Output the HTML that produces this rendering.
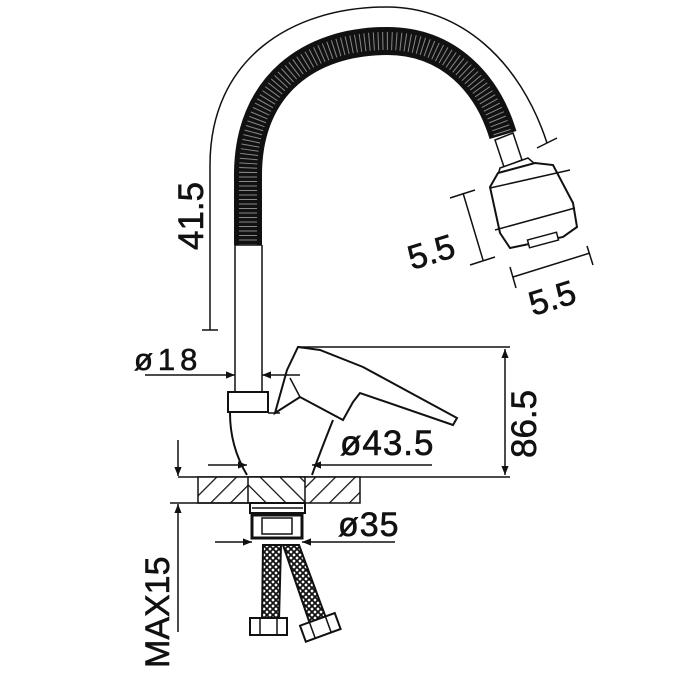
<!DOCTYPE html>
<html><head><meta charset="utf-8"><style>
html,body{margin:0;padding:0;background:#fff;width:700px;height:700px;overflow:hidden}
svg{display:block}
text{font-family:"Liberation Sans",sans-serif;fill:#111;stroke:#111;stroke-width:0.6}
</style></head><body>
<svg width="700" height="700" viewBox="0 0 700 700" xmlns="http://www.w3.org/2000/svg">
<defs>
<pattern id="h1" width="14" height="14" patternUnits="userSpaceOnUse" patternTransform="rotate(45)">
<rect width="14" height="14" fill="#fff"/><line x1="0" y1="0" x2="0" y2="14" stroke="#111" stroke-width="2.5"/></pattern>
<pattern id="h2" width="14" height="14" patternUnits="userSpaceOnUse" patternTransform="rotate(-45)">
<rect width="14" height="14" fill="#fff"/><line x1="0" y1="0" x2="0" y2="14" stroke="#111" stroke-width="2.5"/></pattern>
<pattern id="br" width="6" height="6" patternUnits="userSpaceOnUse">
<rect width="6" height="6" fill="#fff"/><path d="M0 0L6 6M6 0L0 6" stroke="#111" stroke-width="1.8"/></pattern>
<marker id="ar" viewBox="0 0 10 10" refX="10" refY="5" markerWidth="6" markerHeight="6" orient="auto-start-reverse"><path d="M0 1L10 5L0 9z" fill="#111"/></marker>
</defs>
<g stroke="#111" fill="none" stroke-width="1.5">
<path d="M210,330 L210,165 C210,60 290,7 387,7 C460,7 520,60 547,143"/>
<line x1="537" y1="148" x2="557" y2="138"/>
<line x1="202" y1="330" x2="218" y2="330"/>
<path d="M248,245 L248,175 C248,85 310,41 387,41 C450,41 488,85 503,135" stroke="#111" stroke-width="28"/>
<path d="M248,245 L248,175 C248,85 310,41 387,41 C450,41 488,85 503,135" stroke="#888" stroke-width="18" stroke-dasharray="1 3.5"/>
<line x1="235" y1="245" x2="235" y2="392"/><line x1="262" y1="245" x2="262" y2="392"/>
<line x1="235" y1="245" x2="262" y2="245"/>
<polygon points="495,140 513,133 522,160 504,167" fill="#fff"/>
<polygon points="500,168 528,158 535,164 498,175" fill="#fff"/>
<polygon points="498,173 535,163 553,165 573,203 577,227 563,237 510,248 500,233 490,187" fill="#fff" stroke-width="2"/>
<line x1="495" y1="230" x2="575" y2="208"/>
<line x1="490" y1="188" x2="570" y2="170"/>
<rect x="528" y="236" width="30" height="8" fill="#fff" transform="rotate(-15 543 240)"/>
<line x1="463" y1="193" x2="483" y2="260"/>
<line x1="450" y1="198" x2="475" y2="190"/><line x1="470" y1="265" x2="495" y2="257"/>
<line x1="513" y1="277" x2="590" y2="253"/>
<line x1="510" y1="267" x2="516" y2="288"/><line x1="587" y1="246" x2="593" y2="265"/>
<rect x="228" y="392" width="40" height="20" fill="#fff" stroke-width="2"/>
<path d="M230,413 C230,440 238,460 247,475 M333,420 C325,440 318,458 312,475" stroke-width="2"/>
<line x1="268" y1="413" x2="280" y2="413"/>
<path d="M287,370 L298,347 L320,350 L363,367 L457,418 L453,425 L360,393 L353,402 L343,420 L300,397 L275,413 Z" fill="#fff" stroke-width="2"/>
<line x1="290" y1="378" x2="300" y2="397"/>
<line x1="298" y1="347" x2="510" y2="347"/>
<line x1="505" y1="349" x2="505" y2="475" marker-start="url(#ar)" marker-end="url(#ar)"/>
<line x1="178" y1="477" x2="510" y2="477"/>
<line x1="145" y1="375" x2="218" y2="375" /><line x1="218" y1="375" x2="235" y2="375" marker-end="url(#ar)"/>
<line x1="262" y1="375" x2="300" y2="375" marker-start="url(#ar)"/>
<line x1="208" y1="465" x2="247" y2="465" marker-end="url(#ar)"/>
<line x1="312" y1="465" x2="432" y2="465" marker-start="url(#ar)"/>
<rect x="198" y="477" width="162" height="26" fill="url(#h1)" stroke-width="1.5"/>
<rect x="248" y="477" width="57" height="26" fill="url(#h2)"/>
<line x1="178" y1="440" x2="178" y2="476" marker-end="url(#ar)"/>
<line x1="178" y1="504" x2="178" y2="632" marker-start="url(#ar)"/>
<line x1="170" y1="503" x2="248" y2="503"/>
<rect x="250" y="503" width="55" height="10" fill="#fff" stroke-width="2"/>
<line x1="252" y1="508" x2="303" y2="508"/>
<rect x="252" y="515" width="50" height="23" fill="#fff" stroke-width="3"/>
<rect x="262" y="518" width="30" height="16" fill="#fff"/>
<line x1="215" y1="542" x2="252" y2="542" marker-end="url(#ar)"/>
<line x1="302" y1="542" x2="395" y2="542" marker-start="url(#ar)"/>
<polygon points="263,545 281,545 279,620 262,620" fill="url(#br)" stroke-width="2"/>
<polygon points="283,545 299,545 326,618 310,624" fill="url(#br)" stroke-width="2"/>
<rect x="250" y="618" width="37" height="17" fill="#fff" stroke-width="2"/>
<line x1="260" y1="618" x2="260" y2="635"/><line x1="277" y1="618" x2="277" y2="635"/>
<g transform="rotate(-20 320 628)"><rect x="302" y="619" width="37" height="17" fill="#fff" stroke-width="2"/>
<line x1="312" y1="619" x2="312" y2="636"/><line x1="329" y1="619" x2="329" y2="636"/></g>
</g>
<text x="134" y="370" font-size="31" letter-spacing="5">ø18</text>
<text x="340" y="455" font-size="35" letter-spacing="1">ø43.5</text>
<text x="338" y="536" font-size="34" letter-spacing="1">ø35</text>
<text transform="translate(203,250) rotate(-90)" font-size="35">41.5</text>
<text transform="translate(536,458) rotate(-90)" font-size="35">86.5</text>
<text transform="translate(169,668) rotate(-90)" font-size="34">MAX15</text>
<text transform="translate(412,270) rotate(-17)" font-size="34">5.5</text>
<text transform="translate(533,316) rotate(-17)" font-size="34">5.5</text>
</svg>
</body></html>
